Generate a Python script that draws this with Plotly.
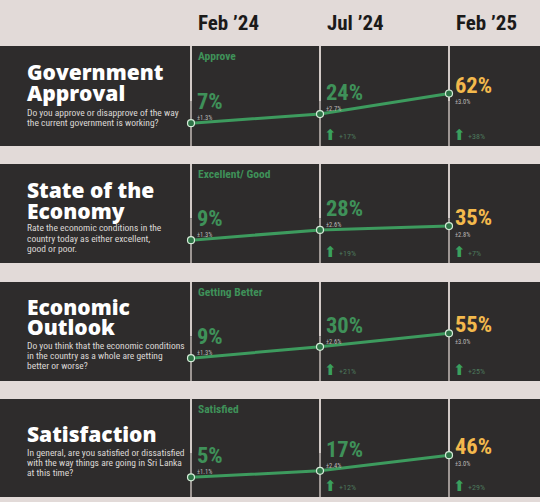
import plotly.graph_objects as go
from plotly.subplots import make_subplots

# ---------------- data ----------------
periods = ["Feb ’24", "Jul ’24", "Feb ’25"]

titles = [["Government", "Approval"],
          ["State of the", "Economy"],
          ["Economic", "Outlook"],
          ["Satisfaction"]]
questions = [["Do you approve or disapprove of the way",
              "the current government is working?"],
             ["Rate the economic conditions in the",
              "country today as either excellent,",
              "good or poor."],
             ["Do you think that the economic conditions",
              "in the country as a whole are getting",
              "better or worse?"],
             ["In general, are you satisfied or dissatisfied",
              "with the way things are going in Sri Lanka",
              "at this time?"]]
measures = ["Approve", "Excellent/ Good", "Getting Better", "Satisfied"]

approve_vals = [7, 24, 62]
economy_vals = [9, 28, 35]
outlook_vals = [9, 30, 55]
satisfied_vals = [5, 17, 46]
series = [approve_vals, economy_vals, outlook_vals, satisfied_vals]

approve_moe = [1.3, 2.7, 3.0]
economy_moe = [1.3, 2.6, 2.8]
outlook_moe = [1.3, 2.6, 3.0]
satisfied_moe = [1.1, 2.4, 3.0]
moes = [approve_moe, economy_moe, outlook_moe, satisfied_moe]

# ---------------- style ----------------
W, H = 540, 502
BG = "#e2dad8"
PANEL = "#2e2c2c"
GREEN = "#3d9b5e"
GREEN_TXT = "#3f9159"
ORANGE = "#f3b94c"
MUTED = "#4d7a5c"
NARROW = "Liberation Sans Narrow, Roboto Condensed, Arial Narrow, Roboto, sans-serif"
HEAVY = "Open Sans, Lato, sans-serif"

# panel pixel extents (top, bottom)
panels_px = [(46, 146), (164, 263), (282, 381), (399, 497)]
ZERO_OFF = 81      # px from panel top to 0 %
PX_PER = 0.54      # px per percentage point
XPX = (191, 129)   # pixel of first period, px per period step

fig = make_subplots(rows=4, cols=1)

xr = [-XPX[0] / XPX[1], (W - XPX[0]) / XPX[1]]
xs = list(range(len(periods)))

shapes = []
annotations = []

for i, (top, bot) in enumerate(panels_px):
    r = i + 1
    ph = bot - top
    suffix = "" if r == 1 else str(r)
    dom = [1 - bot / H, 1 - top / H]
    yr = [-(ph - ZERO_OFF) / PX_PER, ZERO_OFF / PX_PER]
    fig.update_yaxes(domain=dom, range=yr, visible=False, fixedrange=True, row=r, col=1)
    fig.update_xaxes(range=xr, visible=False, fixedrange=True, row=r, col=1)

    # dark panel background
    shapes.append(dict(type="rect", xref="paper", yref="paper", x0=0, x1=1,
                       y0=dom[0], y1=dom[1], fillcolor=PANEL, line_width=0, layer="below"))
    # vertical period lines (lighter at top, fading lower)
    for k in xs:
        shapes.append(dict(type="line", xref=f"x{suffix}", yref=f"y{suffix} domain",
                           x0=k, x1=k, y0=0.45, y1=1,
                           line=dict(color="#d2cac7", width=2), layer="below"))
        shapes.append(dict(type="line", xref=f"x{suffix}", yref=f"y{suffix} domain",
                           x0=k, x1=k, y0=0, y1=0.45,
                           line=dict(color="#9e9794", width=2), layer="below"))

    vals = series[i]
    fig.add_trace(go.Scatter(x=xs, y=vals, mode="lines+markers",
                             line=dict(color=GREEN, width=3),
                             marker=dict(size=7, color="#2f7447",
                                         line=dict(color="#d5ecd9", width=1.2)),
                             hoverinfo="skip", showlegend=False),
                  row=r, col=1)

    xref = f"x{suffix}"
    yref = f"y{suffix}"
    ydom = f"y{suffix} domain"

    # measure label
    annotations.append(dict(xref=xref, yref=ydom, x=0, y=1, xanchor="left", yanchor="middle",
                            xshift=5, yshift=-10, text=f"<b>{measures[i]}</b>", showarrow=False,
                            font=dict(family=NARROW, size=11.5, color=GREEN_TXT)))

    # titles
    if len(titles[i]) == 2:
        t_offs = [26, 47] if i < 2 else [25, 45]
    else:
        t_offs = [35]
    for line, off in zip(titles[i], t_offs):
        annotations.append(dict(xref="paper", yref=ydom, x=25 / W, y=1, xanchor="left",
                                yanchor="middle", yshift=-off, text=line, showarrow=False,
                                font=dict(family=HEAVY, size=21, color="white", weight=800)))
    q0 = {0: 66, 1: 64, 2: 63, 3: 53}[i]
    for j, line in enumerate(questions[i]):
        annotations.append(dict(xref="paper", yref=ydom, x=25 / W, y=1, xanchor="left",
                                yanchor="middle", yshift=-(q0 + 10.3 * j), text=line,
                                showarrow=False,
                                font=dict(family=NARROW, size=9.5, color="#dcd8d6")))

    # values
    for k in xs:
        last = k == xs[-1]
        col = ORANGE if last else GREEN_TXT
        big_dy = 9 if last else 22
        moe_dy = -8.5 if last else 5
        annotations.append(dict(xref=xref, yref=yref, x=k, y=vals[k], xanchor="left",
                                yanchor="middle", xshift=4, yshift=big_dy,
                                text=f"<b>{vals[k]}%</b>", showarrow=False,
                                font=dict(family=NARROW, size=22.5, color=col)))
        annotations.append(dict(xref=xref, yref=yref, x=k, y=vals[k], xanchor="left",
                                yanchor="middle", xshift=4, yshift=moe_dy,
                                text=f"±{moes[i][k]:.1f}%", showarrow=False,
                                font=dict(family=NARROW, size=6.5, color="#bdb8b6")))
        if k > 0:
            diff = vals[k] - vals[k - 1]
            annotations.append(dict(xref=xref, yref=ydom, x=k, y=0, xanchor="left",
                                    yanchor="middle", xshift=2, yshift=11,
                                    text="⬆", showarrow=False,
                                    font=dict(family="DejaVu Sans", size=15, color="#3aa05e")))
            annotations.append(dict(xref=xref, yref=ydom, x=k, y=0, xanchor="left",
                                    yanchor="middle", xshift=17, yshift=10,
                                    text=f"+{diff}%", showarrow=False,
                                    font=dict(family=NARROW, size=8, color=MUTED)))

# header period labels
for k, p in enumerate(periods):
    annotations.append(dict(xref="x", yref="paper", x=k, y=1 - 23 / H, xanchor="left",
                            yanchor="middle", xshift=5, text=f"<b>{p}</b>", showarrow=False,
                            font=dict(family=NARROW, size=21, color="#1b1a1a")))

fig.update_layout(width=W, height=H, margin=dict(l=0, r=0, t=0, b=0),
                  paper_bgcolor=BG, plot_bgcolor="rgba(0,0,0,0)",
                  shapes=shapes, annotations=annotations, showlegend=False)

fig.write_html("out.html", config={"displayModeBar": False},
               post_script="document.body.style.margin='0';document.body.style.overflow='hidden';")
